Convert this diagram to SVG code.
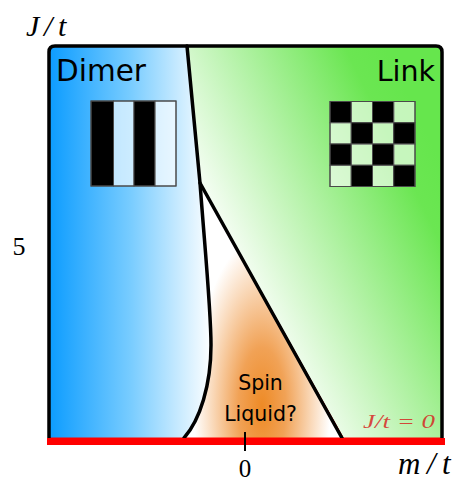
<svg xmlns="http://www.w3.org/2000/svg" width="454" height="482" viewBox="0 0 454 482">
<defs>
<linearGradient id="gDimer" gradientUnits="userSpaceOnUse" x1="49" y1="0" x2="212" y2="0">
<stop offset="0" stop-color="#0c9cff"/>
<stop offset="0.5" stop-color="#78ccff"/>
<stop offset="1" stop-color="#ffffff"/>
</linearGradient>
<linearGradient id="gLink" gradientUnits="userSpaceOnUse" x1="225" y1="265" x2="440" y2="160">
<stop offset="0" stop-color="#ffffff"/>
<stop offset="0.85" stop-color="#6be652"/>
<stop offset="1" stop-color="#66e64d"/>
</linearGradient>
<radialGradient id="gSpin" gradientUnits="userSpaceOnUse" cx="262" cy="407" r="68" gradientTransform="translate(262 407) scale(1 2.5) translate(-262 -407)">
<stop offset="0" stop-color="#ee8a25"/>
<stop offset="0.35" stop-color="#f1a256"/>
<stop offset="0.75" stop-color="#fadcbf"/>
<stop offset="1" stop-color="#ffffff"/>
</radialGradient>
</defs>
<style>
.region{stroke:#ff0000;stroke-width:1.2}
.bound{fill:none;stroke:#000;stroke-width:3.5;stroke-linejoin:round;stroke-linecap:round}
.pat{stroke:#4a4a4a;stroke-width:1}
.dark{fill:#000}
.light{fill:#fff;fill-opacity:0.62}
.sans{font-family:"DejaVu Sans",sans-serif;fill:#000}
.math{font-family:"Liberation Serif",serif;font-style:italic;fill:#000}
.num{font-family:"Liberation Serif",serif;fill:#000}
</style>
<g id="dimer">
<path class="region" fill="url(#gDimer)" d="M49,52 Q49,46 55,46 L187,46 L200,183 C205,250 211,310 211,345 C211,385 200,420 184,438 L49,438 Z"/>
<g id="dimer-pattern" class="pat">
<rect class="dark" x="91" y="101" width="22.5" height="85"/>
<rect class="light" x="113.5" y="101" width="20.5" height="85"/>
<rect class="dark" x="134" y="101" width="21" height="85"/>
<rect class="light" x="155" y="101" width="21" height="85"/>
<rect x="91" y="101" width="85" height="85" fill="none"/>
</g>
<text class="sans" x="56" y="81" font-size="29.5">Dimer</text>
</g>
<g id="link">
<path class="region" fill="url(#gLink)" d="M187,46 L436,46 Q442,46 442,52 L442,438 L343,438 L200,183 Z"/>
<g id="link-pattern" class="pat">
<rect class="dark" x="330" y="101.5" width="21.25" height="21.25"/>
<rect class="light" x="351.25" y="101.5" width="21.25" height="21.25"/>
<rect class="dark" x="372.5" y="101.5" width="21.25" height="21.25"/>
<rect class="light" x="393.75" y="101.5" width="21.25" height="21.25"/>
<rect class="light" x="330" y="122.75" width="21.25" height="21.25"/>
<rect class="dark" x="351.25" y="122.75" width="21.25" height="21.25"/>
<rect class="light" x="372.5" y="122.75" width="21.25" height="21.25"/>
<rect class="dark" x="393.75" y="122.75" width="21.25" height="21.25"/>
<rect class="dark" x="330" y="144" width="21.25" height="21.25"/>
<rect class="light" x="351.25" y="144" width="21.25" height="21.25"/>
<rect class="dark" x="372.5" y="144" width="21.25" height="21.25"/>
<rect class="light" x="393.75" y="144" width="21.25" height="21.25"/>
<rect class="light" x="330" y="165.25" width="21.25" height="21.25"/>
<rect class="dark" x="351.25" y="165.25" width="21.25" height="21.25"/>
<rect class="light" x="372.5" y="165.25" width="21.25" height="21.25"/>
<rect class="dark" x="393.75" y="165.25" width="21.25" height="21.25"/>
<rect x="330" y="101.5" width="85" height="85" fill="none"/>
</g>
<text class="sans" x="435" y="81" font-size="28.5" text-anchor="end">Link</text>
</g>
<g id="spin-liquid">
<path class="region" fill="url(#gSpin)" d="M200,183 C205,250 211,310 211,345 C211,385 200,420 184,438 L343,438 Z"/>
<text class="sans" x="260.5" y="390" font-size="20.5" text-anchor="middle">Spin</text>
<text class="sans" x="260.5" y="420.5" font-size="20.5" text-anchor="middle">Liquid?</text>
</g>
<g id="connectors">
<path class="bound" d="M49,438 L49,52 Q49,46 55,46 L436,46 Q442,46 442,52 L442,438"/>
<path class="bound" d="M187,46 L200,183 C205,250 211,310 211,345 C211,385 200,420 184,438"/>
<path class="bound" d="M200,183 L342,438"/>
<line x1="47" y1="441.5" x2="445" y2="441.5" stroke="#ff0000" stroke-width="7"/>
<line x1="245" y1="432" x2="245" y2="451" stroke="#000" stroke-width="2"/>
</g>
<g id="axes">
<text class="math" x="26" y="36" font-size="30">J</text>
<text class="math" x="44" y="36" font-size="30">/</text>
<text class="math" x="58" y="36" font-size="30">t</text>
<text class="num" x="19" y="255" font-size="26" text-anchor="middle">5</text>
<text class="num" x="245" y="477" font-size="25" text-anchor="middle">0</text>
<text class="math" x="398" y="474" font-size="31">m</text>
<text class="math" x="427" y="474" font-size="31">/</text>
<text class="math" x="442" y="474" font-size="31">t</text>
<text class="math" x="363" y="428" font-size="19" textLength="72" lengthAdjust="spacingAndGlyphs" style="fill:#d81818;fill-opacity:0.8">J/t = 0</text>
</g>
</svg>
